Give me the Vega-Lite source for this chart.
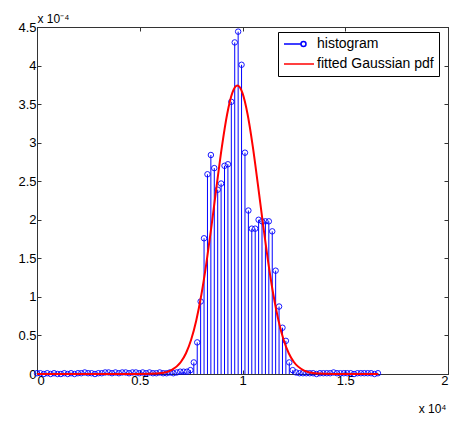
{
  "$schema": "https://vega.github.io/schema/vega-lite/v6.json",
  "width": 411,
  "height": 347,
  "autosize": "none",
  "padding": {"left": 37, "top": 27, "right": 1, "bottom": 47},
  "background": "white",
  "config": {
    "view": {"stroke": "#333333", "strokeWidth": 1},
    "font": "Liberation Sans",
    "axis": {
      "grid": false,
      "domainColor": "#333333",
      "tickColor": "#333333",
      "tickSize": -4,
      "labelFont": "Liberation Sans",
      "labelFontSize": 13,
      "labelColor": "#000000",
      "titleFont": "Liberation Sans",
      "titleFontSize": 12,
      "titleFontWeight": "normal",
      "titleColor": "#000000"
    },
    "legend": {
      "labelFont": "Liberation Sans",
      "labelFontSize": 14,
      "labelColor": "#000000"
    }
  },
  "datasets": {
    "hist": [
      {"x": 0.0000, "v": 0.01}, {"x": 0.0166, "v": 0.01}, {"x": 0.0332, "v": 0.00}, {"x": 0.0498, "v": 0.01},
      {"x": 0.0664, "v": 0.00}, {"x": 0.0830, "v": 0.01}, {"x": 0.0995, "v": 0.00}, {"x": 0.1161, "v": 0.00},
      {"x": 0.1327, "v": 0.01}, {"x": 0.1493, "v": 0.00}, {"x": 0.1659, "v": 0.01}, {"x": 0.1825, "v": 0.00},
      {"x": 0.1991, "v": 0.01}, {"x": 0.2157, "v": 0.01}, {"x": 0.2323, "v": 0.02}, {"x": 0.2489, "v": 0.01},
      {"x": 0.2654, "v": 0.01}, {"x": 0.2820, "v": 0.00}, {"x": 0.2986, "v": 0.01}, {"x": 0.3152, "v": 0.01},
      {"x": 0.3318, "v": 0.02}, {"x": 0.3484, "v": 0.02}, {"x": 0.3650, "v": 0.01}, {"x": 0.3816, "v": 0.02},
      {"x": 0.3982, "v": 0.01}, {"x": 0.4148, "v": 0.02}, {"x": 0.4313, "v": 0.02}, {"x": 0.4479, "v": 0.01},
      {"x": 0.4645, "v": 0.02}, {"x": 0.4811, "v": 0.02}, {"x": 0.4977, "v": 0.01}, {"x": 0.5143, "v": 0.02},
      {"x": 0.5309, "v": 0.01}, {"x": 0.5475, "v": 0.02}, {"x": 0.5641, "v": 0.01}, {"x": 0.5807, "v": 0.01},
      {"x": 0.5972, "v": 0.02}, {"x": 0.6138, "v": 0.01}, {"x": 0.6304, "v": 0.01}, {"x": 0.6470, "v": 0.02},
      {"x": 0.6636, "v": 0.01}, {"x": 0.6802, "v": 0.02}, {"x": 0.6968, "v": 0.03}, {"x": 0.7134, "v": 0.03},
      {"x": 0.7300, "v": 0.03}, {"x": 0.7466, "v": 0.05}, {"x": 0.7631, "v": 0.15}, {"x": 0.7797, "v": 0.41},
      {"x": 0.7963, "v": 0.94}, {"x": 0.8129, "v": 1.76}, {"x": 0.8295, "v": 2.59}, {"x": 0.8461, "v": 2.84},
      {"x": 0.8627, "v": 2.67}, {"x": 0.8793, "v": 2.39}, {"x": 0.8959, "v": 2.47}, {"x": 0.9125, "v": 2.70},
      {"x": 0.9290, "v": 2.72}, {"x": 0.9456, "v": 3.53}, {"x": 0.9622, "v": 4.30}, {"x": 0.9788, "v": 4.44},
      {"x": 0.9954, "v": 4.01}, {"x": 1.0120, "v": 2.87}, {"x": 1.0286, "v": 2.12}, {"x": 1.0452, "v": 1.885},
      {"x": 1.0618, "v": 1.885}, {"x": 1.0784, "v": 2.00}, {"x": 1.0949, "v": 1.98}, {"x": 1.1115, "v": 1.98},
      {"x": 1.1281, "v": 1.98}, {"x": 1.1447, "v": 1.85}, {"x": 1.1613, "v": 1.34}, {"x": 1.1779, "v": 0.875},
      {"x": 1.1945, "v": 0.60}, {"x": 1.2111, "v": 0.43}, {"x": 1.2277, "v": 0.15}, {"x": 1.2443, "v": 0.05},
      {"x": 1.2608, "v": 0.02}, {"x": 1.2774, "v": 0.01}, {"x": 1.2940, "v": 0.01}, {"x": 1.3106, "v": 0.01},
      {"x": 1.3272, "v": 0.01}, {"x": 1.3438, "v": 0.01}, {"x": 1.3604, "v": 0.00}, {"x": 1.3770, "v": 0.01},
      {"x": 1.3936, "v": 0.01}, {"x": 1.4102, "v": 0.01}, {"x": 1.4267, "v": 0.01}, {"x": 1.4433, "v": 0.02},
      {"x": 1.4599, "v": 0.01}, {"x": 1.4765, "v": 0.01}, {"x": 1.4931, "v": 0.01}, {"x": 1.5097, "v": 0.01},
      {"x": 1.5263, "v": 0.01}, {"x": 1.5429, "v": 0.00}, {"x": 1.5595, "v": 0.01}, {"x": 1.5761, "v": 0.01},
      {"x": 1.5926, "v": 0.01}, {"x": 1.6092, "v": 0.01}, {"x": 1.6258, "v": 0.01}, {"x": 1.6424, "v": 0.00},
      {"x": 1.6590, "v": 0.01}
    ],
    "fit": [
      {"x": 0.0, "v": 0.0}, {"x": 0.1, "v": 0.0}, {"x": 0.2, "v": 0.0}, {"x": 0.3, "v": 0.0},
      {"x": 0.4, "v": 0.0}, {"x": 0.5, "v": 0.0}, {"x": 0.55, "v": 0.002}, {"x": 0.6, "v": 0.010},
      {"x": 0.65, "v": 0.044}, {"x": 0.7, "v": 0.155}, {"x": 0.725, "v": 0.269}, {"x": 0.75, "v": 0.444},
      {"x": 0.775, "v": 0.695}, {"x": 0.8, "v": 1.031}, {"x": 0.825, "v": 1.451}, {"x": 0.85, "v": 1.937},
      {"x": 0.875, "v": 2.456}, {"x": 0.9, "v": 2.952}, {"x": 0.925, "v": 3.366}, {"x": 0.95, "v": 3.643},
      {"x": 0.975, "v": 3.74}, {"x": 1.0, "v": 3.643}, {"x": 1.025, "v": 3.366}, {"x": 1.05, "v": 2.952},
      {"x": 1.075, "v": 2.456}, {"x": 1.1, "v": 1.937}, {"x": 1.125, "v": 1.451}, {"x": 1.15, "v": 1.031},
      {"x": 1.175, "v": 0.695}, {"x": 1.2, "v": 0.444}, {"x": 1.225, "v": 0.269}, {"x": 1.25, "v": 0.155},
      {"x": 1.3, "v": 0.044}, {"x": 1.35, "v": 0.010}, {"x": 1.4, "v": 0.002}, {"x": 1.45, "v": 0.0},
      {"x": 1.5, "v": 0.0}, {"x": 1.6, "v": 0.0}, {"x": 1.66, "v": 0.0}
    ]
  },
  "layer": [
    {
      "data": {"name": "hist"},
      "mark": {"type": "rule", "strokeWidth": 1, "opacity": 1},
      "encoding": {
        "x": {
          "field": "x", "type": "quantitative",
          "scale": {"domain": [0, 2], "nice": false},
          "axis": {"values": [0, 0.5, 1, 1.5, 2], "format": "~g", "labelPadding": 4, "title": "x 10⁴", "titleAnchor": "end", "titleAlign": "right", "titleX": 409, "titleY": 38, "titleBaseline": "alphabetic"}
        },
        "y": {
          "field": "v", "type": "quantitative",
          "scale": {"domain": [0, 4.5], "nice": false},
          "axis": {"values": [0, 0.5, 1, 1.5, 2, 2.5, 3, 3.5, 4, 4.5], "format": "~g", "labelPadding": 5, "title": "x 10⁻⁴", "titleAngle": 0, "titleAlign": "left", "titleX": 0, "titleY": -5, "titleBaseline": "alphabetic"}
        },
        "y2": {"datum": 0},
        "color": {
          "datum": "histogram",
          "scale": {"domain": ["histogram", "fitted Gaussian pdf"], "range": ["#0000ff", "#ff0000"]},
          "legend": {
            "title": null,
            "orient": "none",
            "legendX": 241,
            "legendY": 5,
            "padding": 5,
            "strokeColor": "#000000",
            "fillColor": "#ffffff",
            "cornerRadius": 0,
            "symbolSize": 900,
            "symbolType": {"expr": "datum.value === 'histogram' ? 'M-1,0H0.13M0.467,0A0.167,0.167,0,1,1,0.133,0A0.167,0.167,0,1,1,0.467,0' : 'M-1,0H1'"},
            "clipHeight": 14,
            "rowPadding": 6,
            "labelOffset": 2,
            "encode": {
              "symbols": {
                "enter": {
                  "shape": {"signal": "datum.value === 'histogram' ? 'M-1,0H0.13M0.467,0A0.167,0.167,0,1,1,0.133,0A0.167,0.167,0,1,1,0.467,0' : 'M-1,0H1'"}
                },
                "update": {
                  "shape": {"signal": "datum.value === 'histogram' ? 'M-1,0H0.13M0.467,0A0.167,0.167,0,1,1,0.133,0A0.167,0.167,0,1,1,0.467,0' : 'M-1,0H1'"},
                  "strokeWidth": {"signal": "datum.value === 'histogram' ? 1 : 2"},
                  "fill": {"value": "transparent"},
                  "stroke": {"scale": "color", "field": "value"},
                  "opacity": {"value": 1}
                }
              }
            }
          }
        }
      }
    },
    {
      "data": {"name": "hist"},
      "mark": {"type": "point", "shape": "circle", "filled": false, "size": 30, "strokeWidth": 1, "opacity": 0.9},
      "encoding": {
        "x": {"field": "x", "type": "quantitative", "axis": null},
        "y": {"field": "v", "type": "quantitative", "axis": null},
        "color": {"datum": "histogram"}
      }
    },
    {
      "data": {"name": "fit"},
      "mark": {"type": "line", "strokeWidth": 2, "interpolate": "monotone"},
      "encoding": {
        "x": {"field": "x", "type": "quantitative", "axis": {"orient": "top", "labels": false, "title": null, "values": [0, 0.5, 1, 1.5, 2]}},
        "y": {"field": "v", "type": "quantitative", "axis": {"orient": "right", "labels": false, "title": null, "values": [0, 0.5, 1, 1.5, 2, 2.5, 3, 3.5, 4, 4.5]}},
        "color": {"datum": "fitted Gaussian pdf"}
      }
    }
  ],
  "resolve": {"axis": {"x": "independent", "y": "independent"}}
}
